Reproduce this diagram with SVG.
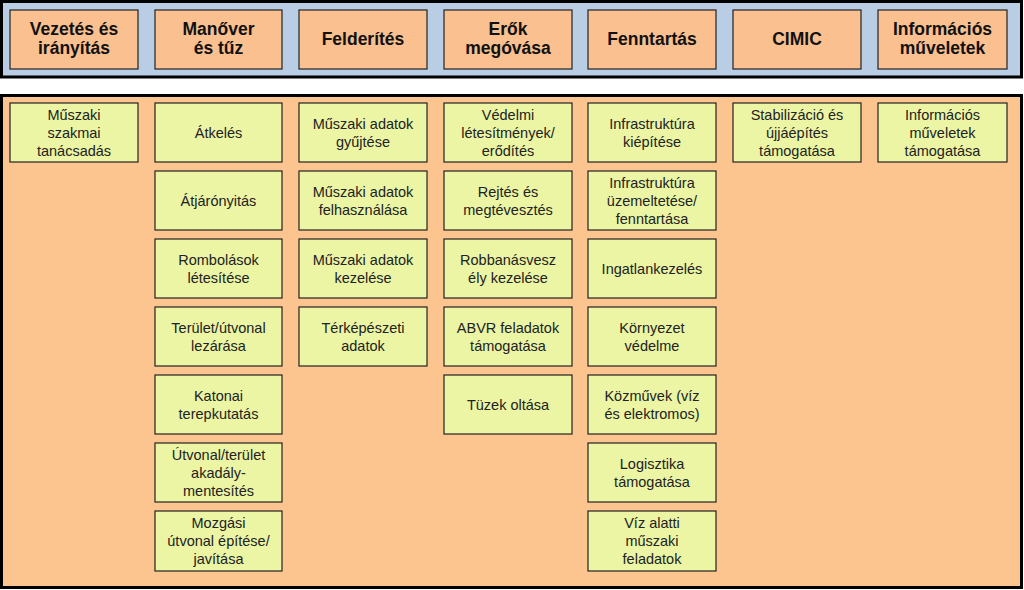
<svg xmlns="http://www.w3.org/2000/svg" width="1024" height="590" viewBox="0 0 1024 590">
<style>
.panel{stroke:#000;stroke-width:3}
.hdr rect{fill:#fac08f;stroke:#222;stroke-width:1.2}
.hdr text{font-family:"Liberation Sans",Arial,sans-serif;font-weight:bold;font-size:17.5px;fill:#111;text-anchor:middle}
.act rect{fill:#ebf5a4;stroke:#222;stroke-width:1.2}
.act text{font-family:"Liberation Sans",Arial,sans-serif;font-size:14.5px;fill:#222;text-anchor:middle}
</style>
<rect x="0" y="0" width="1024" height="590" fill="#fff"/>
<rect class="panel" x="1.5" y="1.5" width="1020" height="75.5" fill="#b9cde5"/>
<rect class="panel" x="1.5" y="95.5" width="1020" height="492" fill="#fcc590"/>

<g id="h1" class="hdr"><rect x="10" y="10" width="128" height="59"/><text x="74" y="34.5">Vezetés és</text><text x="74" y="53.5">irányítás</text></g>
<g id="h2" class="hdr"><rect x="155" y="10" width="127" height="59"/><text x="218.5" y="34.5">Manőver</text><text x="218.5" y="53.5">és tűz</text></g>
<g id="h3" class="hdr"><rect x="299" y="10" width="128" height="59"/><text x="363" y="45">Felderítés</text></g>
<g id="h4" class="hdr"><rect x="444" y="10" width="128" height="59"/><text x="508" y="34.5">Erők</text><text x="508" y="53.5">megóvása</text></g>
<g id="h5" class="hdr"><rect x="588" y="10" width="128" height="59"/><text x="652" y="45">Fenntartás</text></g>
<g id="h6" class="hdr"><rect x="733" y="10" width="128" height="59"/><text x="797" y="45">CIMIC</text></g>
<g id="h7" class="hdr"><rect x="878" y="10" width="129" height="59"/><text x="942.5" y="34.5">Információs</text><text x="942.5" y="53.5">műveletek</text></g>

<!-- column 0 -->
<g id="a0_0" class="act"><rect x="10" y="103" width="128" height="59"/><text x="74" y="119.5">Műszaki</text><text x="74" y="137.5">szakmai</text><text x="74" y="155.5">tanácsadás</text></g>

<!-- column 1 -->
<g id="a1_0" class="act"><rect x="155" y="103" width="127" height="59"/><text x="218.5" y="137.5">Átkelés</text></g>
<g id="a1_1" class="act"><rect x="155" y="171" width="127" height="59"/><text x="218.5" y="205.5">Átjárónyitás</text></g>
<g id="a1_2" class="act"><rect x="155" y="239" width="127" height="59"/><text x="218.5" y="264.5">Rombolások</text><text x="218.5" y="282.5">létesítése</text></g>
<g id="a1_3" class="act"><rect x="155" y="307" width="127" height="59"/><text x="218.5" y="332.5">Terület/útvonal</text><text x="218.5" y="350.5">lezárása</text></g>
<g id="a1_4" class="act"><rect x="155" y="375" width="127" height="59"/><text x="218.5" y="400.5">Katonai</text><text x="218.5" y="418.5">terepkutatás</text></g>
<g id="a1_5" class="act"><rect x="155" y="443" width="127" height="59"/><text x="218.5" y="459.5">Útvonal/terület</text><text x="218.5" y="477.5">akadály-</text><text x="218.5" y="495.5">mentesítés</text></g>
<g id="a1_6" class="act"><rect x="155" y="511" width="127" height="60"/><text x="218.5" y="528">Mozgási</text><text x="218.5" y="546">útvonal építése/</text><text x="218.5" y="564">javítása</text></g>

<!-- column 2 -->
<g id="a2_0" class="act"><rect x="299" y="103" width="128" height="59"/><text x="363" y="128.5">Műszaki adatok</text><text x="363" y="146.5">gyűjtése</text></g>
<g id="a2_1" class="act"><rect x="299" y="171" width="128" height="59"/><text x="363" y="196.5">Műszaki adatok</text><text x="363" y="214.5">felhasználása</text></g>
<g id="a2_2" class="act"><rect x="299" y="239" width="128" height="59"/><text x="363" y="264.5">Műszaki adatok</text><text x="363" y="282.5">kezelése</text></g>
<g id="a2_3" class="act"><rect x="299" y="307" width="128" height="59"/><text x="363" y="332.5">Térképészeti</text><text x="363" y="350.5">adatok</text></g>

<!-- column 3 -->
<g id="a3_0" class="act"><rect x="444" y="103" width="128" height="59"/><text x="508" y="119.5">Védelmi</text><text x="508" y="137.5">létesítmények/</text><text x="508" y="155.5">erődítés</text></g>
<g id="a3_1" class="act"><rect x="444" y="171" width="128" height="59"/><text x="508" y="196.5">Rejtés és</text><text x="508" y="214.5">megtévesztés</text></g>
<g id="a3_2" class="act"><rect x="444" y="239" width="128" height="59"/><text x="508" y="264.5">Robbanásvesz</text><text x="508" y="282.5">ély kezelése</text></g>
<g id="a3_3" class="act"><rect x="444" y="307" width="128" height="59"/><text x="508" y="332.5">ABVR feladatok</text><text x="508" y="350.5">támogatása</text></g>
<g id="a3_4" class="act"><rect x="444" y="375" width="128" height="59"/><text x="508" y="409.5">Tüzek oltása</text></g>

<!-- column 4 -->
<g id="a4_0" class="act"><rect x="588" y="103" width="128" height="59"/><text x="652" y="128.5">Infrastruktúra</text><text x="652" y="146.5">kiépítése</text></g>
<g id="a4_1" class="act"><rect x="588" y="171" width="128" height="59"/><text x="652" y="187.5">Infrastruktúra</text><text x="652" y="205.5">üzemeltetése/</text><text x="652" y="223.5">fenntartása</text></g>
<g id="a4_2" class="act"><rect x="588" y="239" width="128" height="59"/><text x="652" y="273.5">Ingatlankezelés</text></g>
<g id="a4_3" class="act"><rect x="588" y="307" width="128" height="59"/><text x="652" y="332.5">Környezet</text><text x="652" y="350.5">védelme</text></g>
<g id="a4_4" class="act"><rect x="588" y="375" width="128" height="59"/><text x="652" y="400.5">Közművek (víz</text><text x="652" y="418.5">és elektromos)</text></g>
<g id="a4_5" class="act"><rect x="588" y="443" width="128" height="59"/><text x="652" y="468.5">Logisztika</text><text x="652" y="486.5">támogatása</text></g>
<g id="a4_6" class="act"><rect x="588" y="511" width="128" height="60"/><text x="652" y="528">Víz alatti</text><text x="652" y="546">műszaki</text><text x="652" y="564">feladatok</text></g>

<!-- column 5 -->
<g id="a5_0" class="act"><rect x="733" y="103" width="128" height="59"/><text x="797" y="119.5">Stabilizáció és</text><text x="797" y="137.5">újjáépítés</text><text x="797" y="155.5">támogatása</text></g>

<!-- column 6 -->
<g id="a6_0" class="act"><rect x="878" y="103" width="129" height="59"/><text x="942.5" y="119.5">Információs</text><text x="942.5" y="137.5">műveletek</text><text x="942.5" y="155.5">támogatása</text></g>

<g id="connectors"></g>
</svg>
